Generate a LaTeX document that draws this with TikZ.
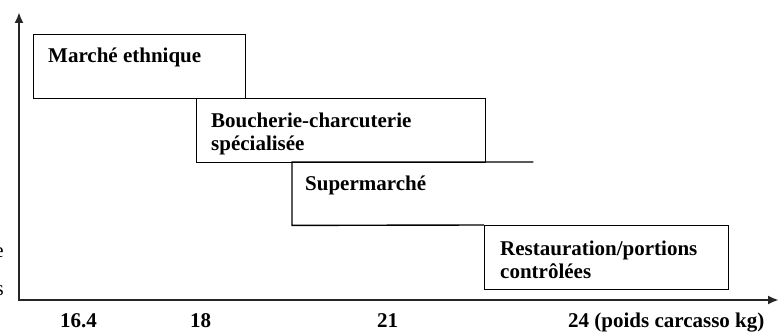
\documentclass[tikz,border=0pt]{standalone}
\usepackage{fontspec}
\setmainfont{Liberation Serif}
\usetikzlibrary{arrows.meta,positioning}

\begin{document}
\begin{tikzpicture}[
    x=1pt, y=1pt,
    every node/.style={font=\fontsize{21}{23}\selectfont\bfseries},
    axis/.style={line width=2.2pt, draw=black!85, >={Latex[length=11pt,width=9pt]}},
    box/.style={rectangle, draw, line width=1.4pt, anchor=north west, minimum height=64pt},
    boxlabel/.style={align=left, inner sep=0pt},
    ticklabel/.style={anchor=base west, inner sep=0pt},
    cutlabel/.style={anchor=base east, inner sep=0pt, font=\fontsize{21}{23}\selectfont},
    edge/.style={line width=1.4pt}
]
\useasboundingbox (0,0) rectangle (780,332);

% Axes
\coordinate (origin) at (19,32);
\coordinate (ytop) at (19,320);
\coordinate (xend) at (779,32);
\draw[axis, <->] (ytop) -- (origin) -- (xend);

% Market boxes, stepping down along the weight axis
\node[box, minimum width=212pt] (ethnic) at (33,298) {};
\node[box, minimum width=289pt] (boucherie) at (196,234) {};
\node[rectangle, anchor=north west, minimum width=241pt, minimum height=63pt] (supermarche) at (292,170) {};
\node[box, minimum width=244pt] (restauration) at (484,107) {};
\draw[edge] (supermarche.north east) -- (supermarche.north west)
    -- (supermarche.south west) -- (restauration.north west);

% Box labels
\node[boxlabel, below right=13.5pt and 15pt of ethnic.north west] (ethniclabel) {Marché ethnique};
\node[boxlabel, below right=14.5pt and 15pt of boucherie.north west] (boucherielabel) {Boucherie-charcuterie\\spécialisée};
\node[boxlabel, below right=13.5pt and 13pt of supermarche.north west] (supermarchelabel) {Supermarché};
\node[boxlabel, below right=15.5pt and 16pt of restauration.north west] (restaurationlabel) {Restauration/portions\\contrôlées};

% Weight ticks
\foreach \x/\lab [count=\i] in {60/16.4, 190/18, 377/21, 568/24 (poids carcasso kg)}
    \node[ticklabel] (tick\i) at (\x,4.5) {\lab};

% Axis title, cut at the left edge
\node[cutlabel] (ylabA) at (4,74) {e};
\node[cutlabel] (ylabB) at (4,36) {s};

\end{tikzpicture}
\end{document}
